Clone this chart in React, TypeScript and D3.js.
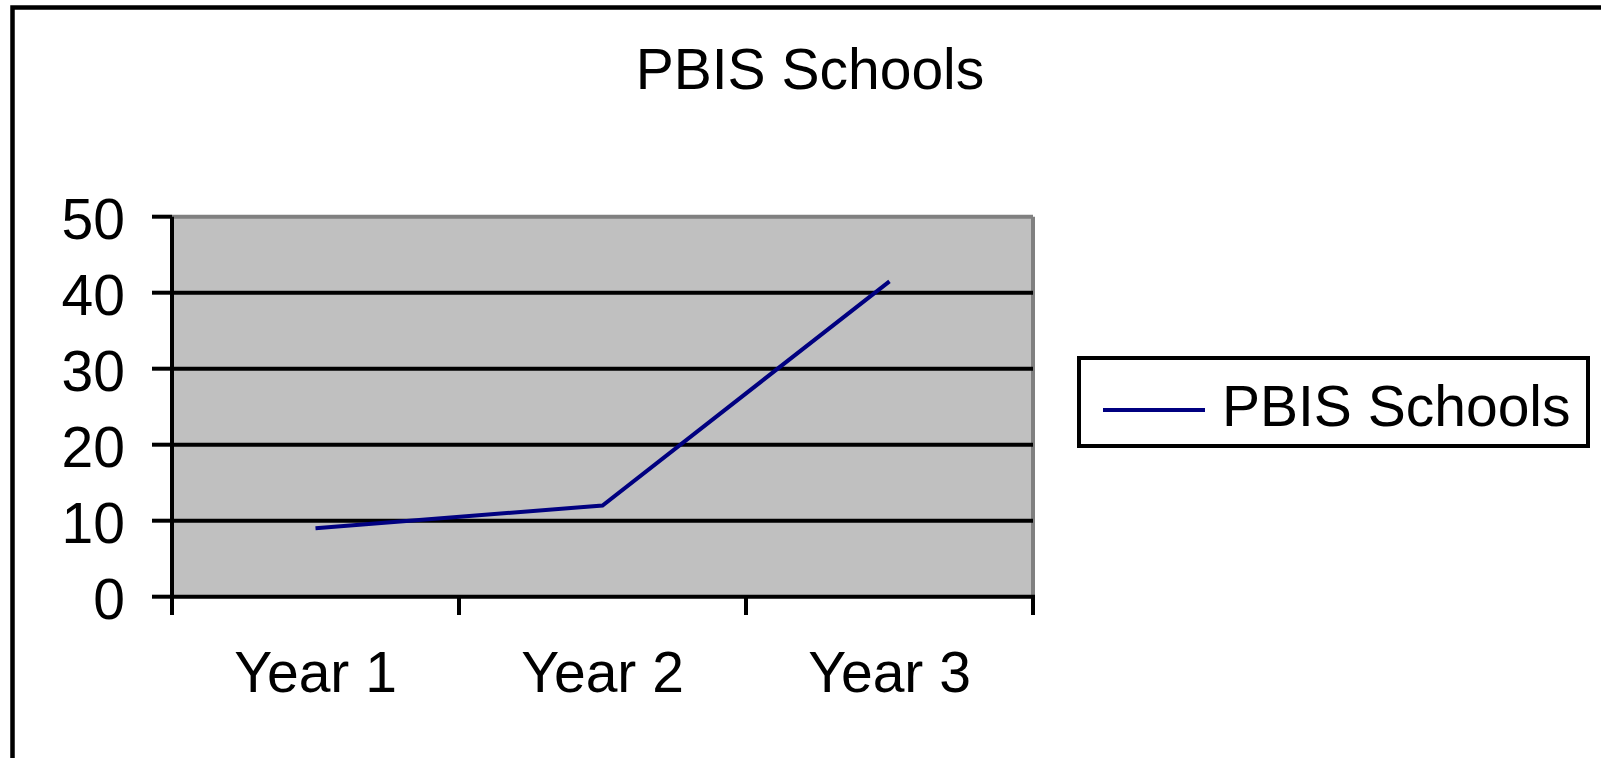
import React from "react";
import * as d3 from "d3";

const categories: string[] = ["Year 1", "Year 2", "Year 3"];
const seriesName = "PBIS Schools";
const values: number[] = [9, 12, 41.5];
const yTicks: number[] = [0, 10, 20, 30, 40, 50];
const chartTitle = "PBIS Schools";

const W = 1601;
const H = 758;
const FONT = "'Liberation Sans', Arial, sans-serif";

export default function App() {
  const left = 172;
  const right = 1033;
  const top = 216.7;
  const bottom = 596.7;

  const x = d3.scaleBand<string>().domain(categories).range([left, right]).padding(0);
  const y = d3.scaleLinear().domain([0, 50]).range([bottom, top]);

  const line = d3
    .line<number>()
    .x((_, i) => (x(categories[i]) as number) + x.bandwidth() / 2)
    .y((d) => y(d));

  const xTickPositions = [...categories.map((c) => x(c) as number), right];

  return (
    <div style={{ position: "absolute", left: 0, top: 0 }}>
      <svg width={W} height={H} style={{ display: "block", background: "#fff" }} fontFamily={FONT}>
        {/* outer chart border */}
        <rect x={12.5} y={7.5} width={W + 20} height={H + 20} fill="#fff" stroke="#000" strokeWidth={4.5} />

        {/* title */}
        <text x={810} y={89} textAnchor="middle" fontSize={57} fill="#000">
          {chartTitle}
        </text>

        {/* plot area */}
        <rect x={left} y={top} width={right - left} height={bottom - top} fill="#c0c0c0" />
        <line x1={left} x2={right} y1={top} y2={top} stroke="#808080" strokeWidth={4} />
        <line x1={right} x2={right} y1={top} y2={bottom} stroke="#808080" strokeWidth={4} />

        {/* gridlines */}
        {yTicks.filter((t) => t !== 0 && t !== 50).map((t) => (
          <line key={"g" + t} x1={left} x2={right} y1={y(t)} y2={y(t)} stroke="#000" strokeWidth={4} />
        ))}

        {/* y axis */}
        <line x1={left} x2={left} y1={top} y2={bottom + 2} stroke="#000" strokeWidth={4} />
        {yTicks.map((t) => (
          <g key={"y" + t}>
            <line x1={152} x2={left} y1={y(t)} y2={y(t)} stroke="#000" strokeWidth={4} />
            <text x={125} y={y(t) + 22} textAnchor="end" fontSize={57} fill="#000">
              {t}
            </text>
          </g>
        ))}

        {/* x axis */}
        <line x1={left} x2={right + 2} y1={bottom} y2={bottom} stroke="#000" strokeWidth={4} />
        {xTickPositions.map((p, i) => (
          <line key={"xt" + i} x1={p} x2={p} y1={bottom} y2={615} stroke="#000" strokeWidth={4} />
        ))}
        {categories.map((c) => (
          <text
            key={c}
            x={(x(c) as number) + x.bandwidth() / 2}
            y={692}
            textAnchor="middle"
            fontSize={57}
            fill="#000"
          >
            {c}
          </text>
        ))}

        {/* series line */}
        <path d={line(values) || ""} fill="none" stroke="#000080" strokeWidth={4} />

        {/* legend */}
        <rect x={1079} y={358} width={509} height={88} fill="#fff" stroke="#000" strokeWidth={4} />
        <line x1={1103} x2={1205} y1={410} y2={410} stroke="#000080" strokeWidth={4} />
        <text x={1222} y={426} fontSize={57} fill="#000">
          {seriesName}
        </text>
      </svg>
    </div>
  );
}
